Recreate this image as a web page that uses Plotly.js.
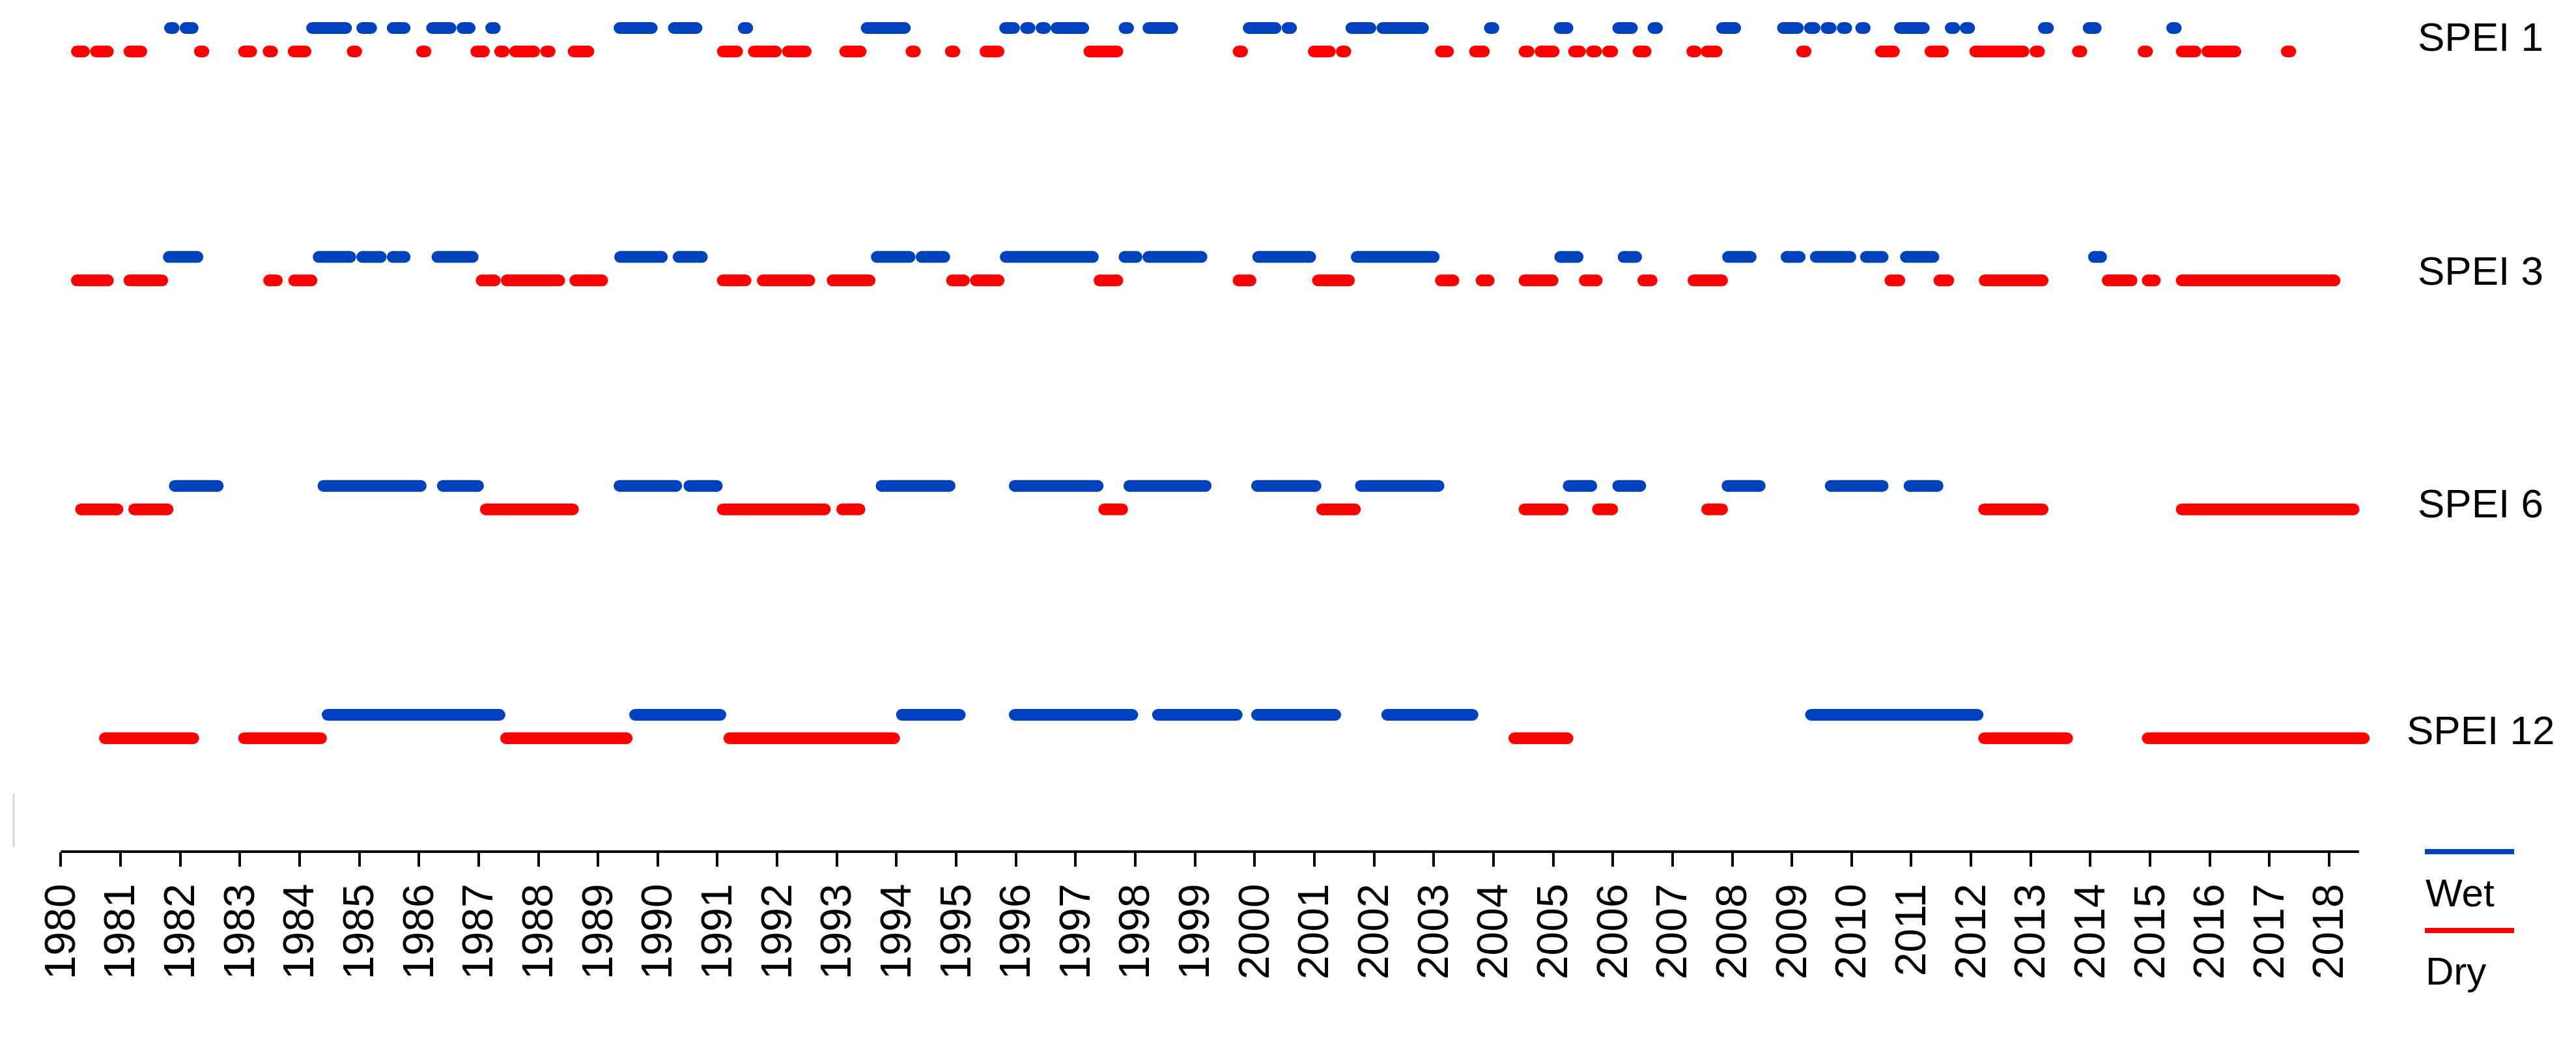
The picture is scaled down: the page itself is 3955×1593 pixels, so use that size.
<!DOCTYPE html>
<html>
<head>
<meta charset="utf-8">
<script src="https://cdn.plot.ly/plotly-3.0.1.min.js"></script>
<style>
    html, body { margin: 0; padding: 0; background: #fff; }
    #chart { width: 3955px; height: 1593px; }
</style>
</head>
<body>
<div id="chart"></div>
<script>
// Wet / dry periods per SPEI time scale, [start, end] in decimal years

const scales = ['SPEI 1', 'SPEI 3', 'SPEI 6', 'SPEI 12'];

const yearLabels = ['1980', '1981', '1982', '1983', '1984', '1985', '1986', '1987', '1988', '1989',
    '1990', '1991', '1992', '1993', '1994', '1995', '1996', '1997', '1998', '1999',
    '2000', '2001', '2002', '2003', '2004', '2005', '2006', '2007', '2008', '2009',
    '2010', '2011', '2012', '2013', '2014', '2015', '2016', '2017', '2018'];

const spei1Wet = [
    [1981.83, 1981.89], [1982.09, 1982.21], [1984.21, 1984.78], [1985.05, 1985.20], [1985.56, 1985.76],
    [1986.22, 1986.53], [1986.73, 1986.85], [1987.21, 1987.27], [1989.36, 1989.90], [1990.27, 1990.65],
    [1991.44, 1991.50], [1993.50, 1994.14], [1995.82, 1995.97], [1996.17, 1996.23], [1996.43, 1996.49],
    [1996.68, 1997.13], [1997.82, 1997.88], [1998.22, 1998.62], [1999.90, 2000.35], [2000.55, 2000.61],
    [2001.62, 2001.94], [2002.14, 2002.82], [2003.94, 2004.00], [2005.11, 2005.24], [2006.09, 2006.32],
    [2006.68, 2006.74], [2007.83, 2008.05], [2008.85, 2009.10], [2009.30, 2009.38], [2009.58, 2009.65],
    [2009.85, 2009.91], [2010.16, 2010.22], [2010.81, 2011.21], [2011.66, 2011.72], [2011.91, 2011.97],
    [2013.22, 2013.29], [2013.97, 2014.09], [2015.37, 2015.43]
];
const spei1Dry = [
    [1980.27, 1980.39], [1980.59, 1980.79], [1981.15, 1981.35], [1982.33, 1982.39], [1983.07, 1983.19],
    [1983.48, 1983.54], [1983.90, 1984.10], [1984.89, 1984.95], [1986.05, 1986.11], [1986.96, 1987.09],
    [1987.36, 1987.42], [1987.61, 1987.93], [1988.13, 1988.19], [1988.59, 1988.84], [1991.09, 1991.33],
    [1991.61, 1991.98], [1992.18, 1992.48], [1993.14, 1993.40], [1994.25, 1994.31], [1994.91, 1994.97],
    [1995.49, 1995.71], [1997.23, 1997.70], [1999.73, 1999.79], [2000.99, 2001.26], [2001.46, 2001.52],
    [2003.12, 2003.24], [2003.69, 2003.84], [2004.52, 2004.59], [2004.79, 2005.01], [2005.35, 2005.45],
    [2005.65, 2005.72], [2005.92, 2005.99], [2006.43, 2006.55], [2007.33, 2007.39], [2007.57, 2007.74],
    [2009.17, 2009.23], [2010.49, 2010.71], [2011.32, 2011.53], [2012.07, 2012.88], [2013.08, 2013.14],
    [2013.79, 2013.85], [2014.89, 2014.95], [2015.53, 2015.76], [2015.96, 2016.43], [2017.29, 2017.35]
];

const spei3Wet = [
    [1981.81, 1982.29], [1984.32, 1984.85], [1985.05, 1985.36], [1985.56, 1985.76], [1986.31, 1986.90],
    [1989.37, 1990.07], [1990.35, 1990.74], [1993.67, 1994.22], [1994.42, 1994.80], [1995.83, 1997.29],
    [1997.82, 1998.02], [1998.22, 1999.11], [2000.06, 2000.93], [2001.71, 2003.00], [2005.12, 2005.41],
    [2006.18, 2006.39], [2007.93, 2008.31], [2008.91, 2009.13], [2009.40, 2009.98], [2010.24, 2010.52],
    [2010.91, 2011.37], [2014.06, 2014.18]
];
const spei3Dry = [
    [1980.27, 1980.79], [1981.15, 1981.70], [1983.49, 1983.62], [1983.91, 1984.20], [1987.05, 1987.27],
    [1987.47, 1988.35], [1988.62, 1989.07], [1991.09, 1991.47], [1991.76, 1992.54], [1992.93, 1993.55],
    [1994.93, 1995.13], [1995.33, 1995.71], [1997.40, 1997.70], [1999.73, 1999.93], [2001.06, 2001.58],
    [2003.12, 2003.33], [2003.80, 2003.92], [2004.52, 2004.99], [2005.53, 2005.73], [2006.51, 2006.65],
    [2007.35, 2007.83], [2010.65, 2010.80], [2011.47, 2011.62], [2012.23, 2013.20], [2014.29, 2014.69],
    [2014.96, 2015.08], [2015.53, 2018.09]
];

const spei6Wet = [
    [1981.91, 1982.63], [1984.40, 1986.03], [1986.40, 1986.99], [1989.36, 1990.31], [1990.53, 1990.99],
    [1993.75, 1994.89], [1995.98, 1997.37], [1997.90, 1999.18], [2000.04, 2001.02], [2001.78, 2003.08],
    [2005.26, 2005.64], [2006.09, 2006.46], [2007.92, 2008.46], [2009.65, 2010.52], [2010.97, 2011.44]
];
const spei6Dry = [
    [1980.34, 1980.95], [1981.23, 1981.79], [1987.12, 1988.58], [1991.09, 1992.80], [1993.09, 1993.38],
    [1997.48, 1997.78], [2001.13, 2001.68], [2004.52, 2005.16], [2005.75, 2005.99], [2007.58, 2007.83],
    [2012.22, 2013.20], [2015.53, 2018.41]
];

const spei12Wet = [
    [1984.47, 1987.35], [1989.62, 1991.05], [1994.09, 1995.06], [1995.98, 1997.95], [1998.38, 1999.70],
    [2000.04, 2001.35], [2002.22, 2003.65], [2009.32, 2012.11]
];
const spei12Dry = [
    [1980.74, 1982.22], [1983.07, 1984.36], [1987.46, 1989.48], [1991.20, 1993.96], [2004.35, 2005.24],
    [2012.22, 2013.61], [2014.96, 2018.58]
];

const wetRuns = [spei1Wet, spei3Wet, spei6Wet, spei12Wet];
const dryRuns = [spei1Dry, spei3Dry, spei6Dry, spei12Dry];

const WET = '#0041be';
const DRY = '#ff0000';
const BAR = 18;          // stroke thickness in px
const DRY_OFFSET = 0.1025;
const FONT = 'Liberation Sans, Arial, sans-serif';

// plot area is 1307px high, x axis at the bottom
const PLOT_H = 1307;
const W = 3955;

function runTrace(list, row, color, name) {
    const x = [];
    const y = [];
    list.forEach(r => {
        x.push(r[0], r[1], null);
        y.push(row, row, null);
    });
    return {
        x: x, y: y, name: name,
        type: 'scatter',
        mode: 'lines+markers',
        line: { color: color, width: BAR },
        marker: { color: color, size: BAR, symbol: 'circle', line: { width: 0 } },
        connectgaps: false,
        hoverinfo: 'skip'
    };
}

const traces = [];
scales.forEach((s, i) => {
    traces.push(runTrace(wetRuns[i], i, WET, s + ' wet'));
    traces.push(runTrace(dryRuns[i], i + DRY_OFFSET, DRY, s + ' dry'));
});

// helpers for pixel placement of decorations
const px = v => v / W;
const py = v => (PLOT_H - v) / PLOT_H;

const labelY = [53, 412, 769, 1117];
const annotations = scales.map((s, i) => ({
    text: s,
    xref: 'paper', yref: 'paper',
    x: px(3808), y: py(labelY[i] + 3),
    xanchor: 'center', yanchor: 'middle',
    showarrow: false,
    font: { family: FONT, size: 62, color: '#000' }
}));
annotations.push(
    { text: 'Wet', xref: 'paper', yref: 'paper', x: px(3722), y: py(1370), xanchor: 'left', yanchor: 'middle',
      showarrow: false, font: { family: FONT, size: 60, color: '#000' } },
    { text: 'Dry', xref: 'paper', yref: 'paper', x: px(3722), y: py(1490), xanchor: 'left', yanchor: 'middle',
      showarrow: false, font: { family: FONT, size: 60, color: '#000' } }
);

const axisEnd = 2018.5;
const shapes = [
    // x axis line
    { type: 'line', xref: 'x', yref: 'paper', x0: Number(yearLabels[0]), x1: axisEnd, y0: 0, y1: 0,
      line: { color: '#000', width: 4 } },
    // legend keys
    { type: 'line', xref: 'paper', yref: 'paper', x0: px(3723), x1: px(3860), y0: py(1307), y1: py(1307),
      line: { color: WET, width: 8 } },
    { type: 'line', xref: 'paper', yref: 'paper', x0: px(3723), x1: px(3860), y0: py(1428), y1: py(1428),
      line: { color: DRY, width: 8 } },
    // faint scan mark on the left edge
    { type: 'line', xref: 'paper', yref: 'paper', x0: px(21), x1: px(21), y0: py(1218), y1: py(1300),
      line: { color: '#d8d8d8', width: 3 } }
];

const layout = {
    width: W,
    height: 1593,
    margin: { l: 0, r: 0, t: 0, b: 1593 - PLOT_H, pad: 0 },
    paper_bgcolor: '#fff',
    plot_bgcolor: '#fff',
    showlegend: false,
    xaxis: {
        range: [1978.982, 2022.135],
        tickvals: yearLabels.map(Number),
        ticktext: yearLabels,
        ticks: 'outside',
        ticklen: 22,
        tickwidth: 4,
        tickcolor: '#000',
        tickangle: -90,
        tickfont: { family: FONT, size: 66, color: '#000' },
        showline: false,
        showgrid: false,
        zeroline: false,
        fixedrange: true
    },
    yaxis: {
        range: [(PLOT_H - 43) / 351.33, -43 / 351.33],
        visible: false,
        showgrid: false,
        zeroline: false,
        fixedrange: true
    },
    shapes: shapes,
    annotations: annotations
};

Plotly.newPlot('chart', traces, layout, { displayModeBar: false, staticPlot: true });
</script>
</body>
</html>
